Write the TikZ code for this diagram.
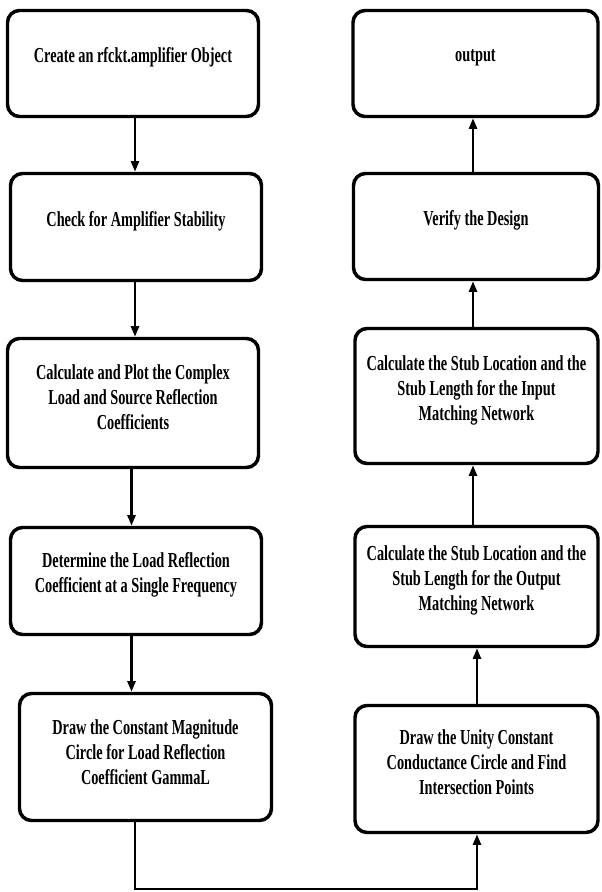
\documentclass[tikz,border=0pt]{standalone}
\usepackage{fontspec}
\setmainfont{Liberation Serif}[FakeStretch=0.67]
\usetikzlibrary{arrows.meta}
\newlength\pxu
\setlength\pxu{0.75pt}
\begin{document}
\begin{tikzpicture}[x=0.75pt,y=-0.75pt,
  box/.style={draw, line width=2.6pt, rounded corners=9pt, inner sep=0pt},
  txt/.style={align=center, inner sep=0pt, font=\fontsize{16}{18.75}\selectfont\bfseries},
  arr/.style={line width=1.9pt, -{Triangle[length=8pt,width=6pt]}}]
\useasboundingbox (0,0) rectangle (601,892);
% left column
\node[box, minimum width=251\pxu, minimum height=106\pxu] (b1) at (133,63.5) {};
\node[box, minimum width=251\pxu, minimum height=107\pxu] (b2) at (136,227) {};
\node[box, minimum width=251\pxu, minimum height=129\pxu] (b3) at (133,403) {};
\node[box, minimum width=251\pxu, minimum height=107\pxu] (b4) at (136,581) {};
\node[box, minimum width=252\pxu, minimum height=127\pxu] (b5) at (145.5,757) {};
% right column
\node[box, minimum width=245\pxu, minimum height=106\pxu] (r1) at (475.5,63.5) {};
\node[box, minimum width=245\pxu, minimum height=106\pxu] (r2) at (476,226.5) {};
\node[box, minimum width=243\pxu, minimum height=135\pxu] (r3) at (476.5,396) {};
\node[box, minimum width=243\pxu, minimum height=120\pxu] (r4) at (476.5,586.5) {};
\node[box, minimum width=243\pxu, minimum height=127\pxu] (r5) at (476.5,769) {};
% texts
\node[txt] (t1) at ([yshift=4.5pt]b1.center) {Create an rfckt.amplifier Object};
\node[txt] (t2) at ([yshift=4.5pt]b2.center) {Check for Amplifier Stability};
\node[txt] (t3) at ([yshift=4.5pt]b3.center) {Calculate and Plot the Complex\\Load and Source Reflection\\Coefficients};
\node[txt] (t4) at ([yshift=4.8pt]b4.center) {Determine the Load Reflection\\Coefficient at a Single Frequency};
\node[txt] (t5) at ([yshift=3.8pt]b5.center) {Draw the Constant Magnitude\\Circle for Load Reflection\\Coefficient GammaL};
\node[txt] (s1) at ([yshift=4.5pt]r1.center) {output};
\node[txt] (s2) at ([yshift=4.5pt]r2.center) {Verify the Design};
\node[txt] (s3) at ([yshift=4.5pt]r3.center) {Calculate the Stub Location and the\\Stub Length for the Input\\Matching Network};
\node[txt] (s4) at ([yshift=4.8pt]r4.center) {Calculate the Stub Location and the\\Stub Length for the Output\\Matching Network};
\node[txt] (s5) at ([yshift=5pt]r5.center) {Draw the Unity Constant\\Conductance Circle and Find\\Intersection Points};
% x positions of connectors
\coordinate (xa) at (135,0);
\coordinate (xb) at (131.5,0);
\coordinate (xc) at (477,0);
\coordinate (xd) at (473,0);
\coordinate (c1) at (135,889);
\coordinate (c2) at (477,889);
% connectors
\draw[arr] (b1.south -| xa) -- (b2.north -| xa);
\draw[arr] (b2.south -| xa) -- (b3.north -| xa);
\draw[arr] (b3.south -| xb) -- (b4.north -| xb);
\draw[arr] (b4.south -| xb) -- (b5.north -| xb);
\draw[arr] (b5.south -| c1) -- (c1) -- (c2) -- (r5.south -| c2);
\draw[arr] (r5.north -| xc) -- (r4.south -| xc);
\draw[arr] (r4.north -| xd) -- (r3.south -| xd);
\draw[arr] (r3.north -| xd) -- (r2.south -| xd);
\draw[arr] (r2.north -| xd) -- (r1.south -| xd);
\end{tikzpicture}
\end{document}
